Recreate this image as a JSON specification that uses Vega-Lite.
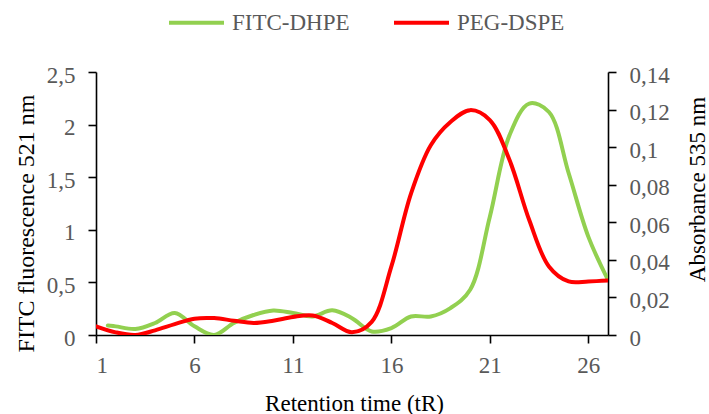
{
  "$schema": "https://vega.github.io/schema/vega-lite/v6.json",
  "width": 512,
  "height": 263,
  "autosize": {"type": "none"},
  "padding": {"left": 96, "top": 72, "right": 101, "bottom": 79},
  "background": "white",
  "config": {
    "view": {"stroke": null},
    "font": "Liberation Serif",
    "axis": {
      "grid": false,
      "domainColor": "black",
      "domainWidth": 1.6,
      "tickColor": "black",
      "tickWidth": 1.6,
      "tickSize": 8,
      "labelFont": "Liberation Serif",
      "labelFontSize": 23,
      "labelColor": "#595959",
      "titleFont": "Liberation Serif",
      "titleFontSize": 23,
      "titleFontWeight": "normal",
      "titleColor": "black"
    },
    "legend": {"labelFont": "Liberation Serif"}
  },
  "data": {
    "values": [
      {"t": 1.6, "value": 0.091, "series": "FITC-DHPE"},
      {"t": 2, "value": 0.082, "series": "FITC-DHPE"},
      {"t": 3, "value": 0.057, "series": "FITC-DHPE"},
      {"t": 4, "value": 0.114, "series": "FITC-DHPE"},
      {"t": 5, "value": 0.209, "series": "FITC-DHPE"},
      {"t": 6, "value": 0.082, "series": "FITC-DHPE"},
      {"t": 7, "value": 0.0, "series": "FITC-DHPE"},
      {"t": 8, "value": 0.114, "series": "FITC-DHPE"},
      {"t": 9, "value": 0.19, "series": "FITC-DHPE"},
      {"t": 10, "value": 0.233, "series": "FITC-DHPE"},
      {"t": 11, "value": 0.209, "series": "FITC-DHPE"},
      {"t": 12, "value": 0.177, "series": "FITC-DHPE"},
      {"t": 13, "value": 0.235, "series": "FITC-DHPE"},
      {"t": 14, "value": 0.16, "series": "FITC-DHPE"},
      {"t": 15, "value": 0.034, "series": "FITC-DHPE"},
      {"t": 16, "value": 0.066, "series": "FITC-DHPE"},
      {"t": 17, "value": 0.176, "series": "FITC-DHPE"},
      {"t": 18, "value": 0.176, "series": "FITC-DHPE"},
      {"t": 19, "value": 0.256, "series": "FITC-DHPE"},
      {"t": 20, "value": 0.43, "series": "FITC-DHPE"},
      {"t": 21, "value": 1.125, "series": "FITC-DHPE"},
      {"t": 22, "value": 1.9, "series": "FITC-DHPE"},
      {"t": 23, "value": 2.2, "series": "FITC-DHPE"},
      {"t": 24, "value": 2.12, "series": "FITC-DHPE"},
      {"t": 25, "value": 1.54, "series": "FITC-DHPE"},
      {"t": 26, "value": 0.935, "series": "FITC-DHPE"},
      {"t": 27, "value": 0.524, "series": "FITC-DHPE"},
      {"t": 1, "value": 0.0046, "series": "PEG-DSPE"},
      {"t": 2, "value": 0.0014, "series": "PEG-DSPE"},
      {"t": 3, "value": 0.0, "series": "PEG-DSPE"},
      {"t": 4, "value": 0.0025, "series": "PEG-DSPE"},
      {"t": 5, "value": 0.0058, "series": "PEG-DSPE"},
      {"t": 6, "value": 0.0087, "series": "PEG-DSPE"},
      {"t": 7, "value": 0.009, "series": "PEG-DSPE"},
      {"t": 8, "value": 0.0076, "series": "PEG-DSPE"},
      {"t": 9, "value": 0.0064, "series": "PEG-DSPE"},
      {"t": 10, "value": 0.0076, "series": "PEG-DSPE"},
      {"t": 11, "value": 0.0096, "series": "PEG-DSPE"},
      {"t": 12, "value": 0.0104, "series": "PEG-DSPE"},
      {"t": 13, "value": 0.0064, "series": "PEG-DSPE"},
      {"t": 14, "value": 0.0015, "series": "PEG-DSPE"},
      {"t": 15, "value": 0.007, "series": "PEG-DSPE"},
      {"t": 16, "value": 0.0365, "series": "PEG-DSPE"},
      {"t": 17, "value": 0.0754, "series": "PEG-DSPE"},
      {"t": 18, "value": 0.101, "series": "PEG-DSPE"},
      {"t": 19, "value": 0.1134, "series": "PEG-DSPE"},
      {"t": 20, "value": 0.1197, "series": "PEG-DSPE"},
      {"t": 21, "value": 0.1144, "series": "PEG-DSPE"},
      {"t": 22, "value": 0.0931, "series": "PEG-DSPE"},
      {"t": 23, "value": 0.0612, "series": "PEG-DSPE"},
      {"t": 24, "value": 0.0365, "series": "PEG-DSPE"},
      {"t": 25, "value": 0.0285, "series": "PEG-DSPE"},
      {"t": 26, "value": 0.0285, "series": "PEG-DSPE"},
      {"t": 27, "value": 0.029, "series": "PEG-DSPE"}
    ]
  },
  "encoding": {
    "x": {
      "field": "t",
      "type": "quantitative",
      "scale": {"domain": [1, 27], "nice": false, "zero": false},
      "axis": {
        "values": [1, 6, 11, 16, 21, 26],
        "title": "Retention time  (tR)",
        "labelPadding": 11,
        "labelBaseline": "top",
        "titleX": 258,
        "titleY": 75,
        "titleBaseline": "alphabetic",
        "titleAnchor": null,
        "titleAlign": "center"
      }
    },
    "color": {
      "field": "series",
      "type": "nominal",
      "scale": {"domain": ["FITC-DHPE", "PEG-DSPE"], "range": ["#92D050", "#FF0000"]},
      "legend": {
        "title": null,
        "orient": "none",
        "direction": "horizontal",
        "legendX": 71,
        "legendY": -79,
        "padding": 0,
        "symbolType": "stroke",
        "symbolSize": 3025,
        "symbolStrokeWidth": 4,
        "labelFont": "Liberation Serif",
        "labelFontSize": 23,
        "labelColor": "#595959",
        "labelOffset": 6,
        "columnPadding": 36,
        "labelLimit": 300
      }
    }
  },
  "layer": [
    {
      "transform": [{"filter": "datum.series === 'FITC-DHPE'"}],
      "mark": {"type": "line", "interpolate": "catmull-rom", "strokeWidth": 4, "strokeCap": "round", "clip": true},
      "encoding": {
        "y": {
          "field": "value",
          "type": "quantitative",
          "scale": {"domain": [0, 2.5], "nice": false},
          "axis": {
            "orient": "left",
            "values": [0, 0.5, 1, 1.5, 2, 2.5],
            "labelExpr": "replace(toString(datum.value), '.', ',')",
            "labelPadding": 13,
            "labelBaseline": "middle",
            "labelOffset": 3,
            "title": "FITC fluorescence 521  nm",
            "titleFontSize": 24,
            "titleAngle": -90,
            "titleX": -63,
            "titleY": 151,
            "titleBaseline": "alphabetic",
            "titleAlign": "center",
            "titleAnchor": null
          }
        }
      }
    },
    {
      "transform": [{"filter": "datum.series === 'PEG-DSPE'"}],
      "mark": {"type": "line", "interpolate": "catmull-rom", "strokeWidth": 4, "strokeCap": "round", "clip": true},
      "encoding": {
        "y": {
          "field": "value",
          "type": "quantitative",
          "scale": {"domain": [0, 0.14], "nice": false},
          "axis": {
            "orient": "right",
            "values": [0, 0.02, 0.04, 0.06, 0.08, 0.1, 0.12, 0.14],
            "labelExpr": "replace(toString(datum.value), '.', ',')",
            "labelPadding": 13,
            "labelBaseline": "middle",
            "labelOffset": 3,
            "title": "Absorbance 535 nm",
            "titleAngle": -90,
            "titleX": 96,
            "titleY": 117,
            "titleBaseline": "alphabetic",
            "titleAlign": "center",
            "titleAnchor": null
          }
        }
      }
    }
  ],
  "resolve": {"scale": {"y": "independent"}}
}
